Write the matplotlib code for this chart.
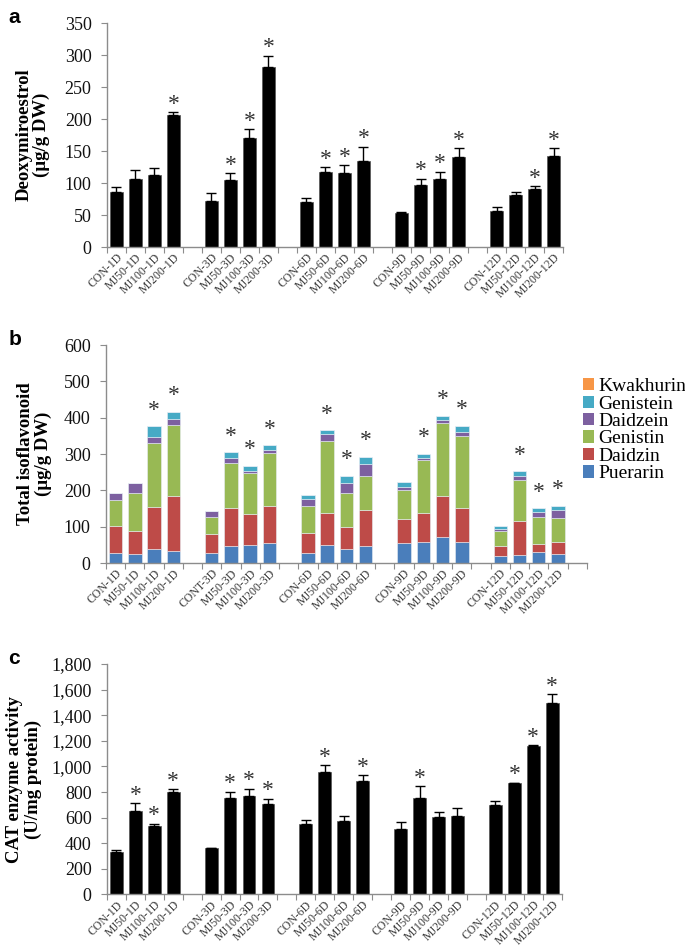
import numpy as np
import matplotlib
matplotlib.use("Agg")
import matplotlib.pyplot as plt
from matplotlib.patches import Patch

plt.rcParams["font.family"] = ["Liberation Serif", "DejaVu Serif"]

# --- labels ---
labels = ["CON-1D", "MJ50-1D", "MJ100-1D", "MJ200-1D",
          "CON-3D", "MJ50-3D", "MJ100-3D", "MJ200-3D",
          "CON-6D", "MJ50-6D", "MJ100-6D", "MJ200-6D",
          "CON-9D", "MJ50-9D", "MJ100-9D", "MJ200-9D",
          "CON-12D", "MJ50-12D", "MJ100-12D", "MJ200-12D"]
labels_b = ["CON-1D", "MJ50-1D", "MJ100-1D", "MJ200-1D",
            "CONT-3D", "MJ50-3D", "MJ100-3D", "MJ200-3D",
            "CON-6D", "MJ50-6D", "MJ100-6D", "MJ200-6D",
            "CON-9D", "MJ50-9D", "MJ100-9D", "MJ200-9D",
            "CON-12D", "MJ50-12D", "MJ100-12D", "MJ200-12D"]

# --- panel a: deoxymiroestrol ---
deoxy_mean = [86, 107, 112, 206, 72, 104, 171, 282, 70, 117, 116, 135,
              53, 97, 106, 141, 57, 82, 90, 142]
deoxy_err = [8, 13, 12, 5, 13, 12, 13, 17, 7, 8, 12, 22,
             2, 10, 12, 13, 5, 4, 5, 12]
deoxy_sig = [0, 0, 0, 1, 0, 1, 1, 1, 0, 1, 1, 1, 0, 1, 1, 1, 0, 0, 1, 1]

# --- panel b: isoflavonoids (stacked) ---
puerarin = [27, 25, 40, 34, 27, 48, 50, 56, 27, 49, 40, 48, 54, 59, 72, 59, 20, 22, 31, 26]
daidzin = [74, 62, 115, 151, 53, 104, 86, 101, 55, 88, 58, 97, 68, 78, 113, 93, 26, 93, 21, 31]
genistin = [73, 105, 176, 195, 46, 124, 112, 146, 76, 198, 95, 95, 79, 147, 200, 198, 41, 114, 75, 68]
daidzein = [20, 28, 16, 16, 18, 14, 4, 9, 17, 21, 26, 33, 8, 5, 9, 11, 8, 11, 13, 21]
genistein = [0, 0, 29, 21, 0, 15, 16, 12, 11, 9, 21, 20, 14, 11, 11, 17, 8, 13, 11, 11]
kwakhurin = [0, 0, 0, 0, 0, 0, 0, 0, 0, 0, 0, 0, 0, 0, 0, 0, 0, 0, 0, 0]
iso_sig = [0, 0, 1, 1, 0, 1, 1, 1, 0, 1, 1, 1, 0, 1, 1, 1, 0, 1, 1, 1]

# --- panel c: CAT enzyme activity ---
cat_mean = [334, 650, 531, 800, 363, 756, 767, 710, 552, 953, 572, 886,
            513, 756, 603, 616, 702, 870, 1158, 1494]
cat_err = [13, 65, 23, 24, 3, 47, 59, 39, 33, 60, 37, 46,
           49, 91, 42, 60, 26, 3, 10, 73]
cat_sig = [0, 1, 1, 1, 0, 1, 1, 1, 0, 1, 0, 1, 0, 1, 0, 0, 0, 1, 1, 1]

serif = "Liberation Serif"
sans = "Liberation Sans"
spine_col = "#8c8c8c"
tick_col = "#3a3a3a"

pos = np.array([i + i // 4 for i in range(len(labels))])


def style_axis(ax, ticklabels, nslots, ymax, ystep, fmt="{:,.0f}"):
    ax.set_xlim(-0.5, nslots - 0.5)
    ax.set_ylim(0, ymax)
    for s in ["top", "right"]:
        ax.spines[s].set_visible(False)
    for s in ["left", "bottom"]:
        ax.spines[s].set_color(spine_col)
        ax.spines[s].set_linewidth(1.0)
    ax.set_xticks(np.arange(-0.5, nslots, 1.0))
    ax.set_xticklabels([])
    ax.tick_params(axis="x", which="major", length=4, color=spine_col, direction="out")
    ax.set_xticks(pos, minor=True)
    ax.set_xticklabels(ticklabels, minor=True, rotation=45, ha="right",
                       rotation_mode="anchor", fontsize=8.5, family=serif, color=tick_col)
    ax.tick_params(axis="x", which="minor", length=0, pad=3)
    yt = np.arange(0, ymax + 1, ystep)
    ax.set_yticks(yt)
    ax.set_yticklabels([fmt.format(v) for v in yt], fontsize=13, family=serif, color="#111111")
    ax.tick_params(axis="y", length=4, color=spine_col, direction="out", pad=7)


def stars(ax, xs, tops, sig, offset):
    for x, t, s in zip(xs, tops, sig):
        if s:
            ax.annotate("*", (x, t), xytext=(0, offset), textcoords="offset points",
                        ha="center", va="bottom", fontsize=17, family=serif, color="#333333")


fig = plt.figure(figsize=(6.85, 9.49), dpi=100)

# panel a
ax1 = fig.add_axes([0.156, 0.7397, 0.666, 0.236])
ax1.bar(pos, deoxy_mean, width=0.72, color="black", edgecolor="#555555", linewidth=0.5,
        yerr=[np.zeros(len(deoxy_err)), deoxy_err], capsize=3.5,
        error_kw=dict(elinewidth=1, capthick=1, ecolor="black"))
style_axis(ax1, labels, 24, 350, 50)
stars(ax1, pos, np.array(deoxy_mean) + np.array(deoxy_err), deoxy_sig, -2)
ax1.set_ylabel("Deoxymiroestrol\n(µg/g DW)", fontsize=13.5, fontweight="bold", family=serif,
               linespacing=1.0)
ax1.yaxis.set_label_coords(-0.125, 0.5)

# panel b
ax2 = fig.add_axes([0.1547, 0.4067, 0.702, 0.2297])
colors = {"Puerarin": "#4A7EBB", "Daidzin": "#BE4B48", "Genistin": "#98B954",
          "Daidzein": "#7D60A0", "Genistein": "#46AAC5", "Kwakhurin": "#F79646"}
series = [("Puerarin", puerarin), ("Daidzin", daidzin), ("Genistin", genistin),
          ("Daidzein", daidzein), ("Genistein", genistein), ("Kwakhurin", kwakhurin)]
bottom = np.zeros(len(labels))
for name, vals in series:
    ax2.bar(pos, vals, bottom=bottom, width=0.7, color=colors[name],
            edgecolor="#e8eef5", linewidth=0.4)
    bottom = bottom + np.array(vals)
style_axis(ax2, labels_b, 25, 600, 100)
stars(ax2, pos, bottom, iso_sig, 4)
ax2.set_ylabel("Total isoflavonoid\n(µg/g DW)", fontsize=13.5, fontweight="bold", family=serif,
               linespacing=1.0)
ax2.yaxis.set_label_coords(-0.113, 0.5)
handles = [Patch(facecolor=colors[n], edgecolor="none") for n, _ in series[::-1]]
fig.legend(handles, [n for n, _ in series[::-1]], loc="upper left",
           bbox_to_anchor=(0.825, 0.62), frameon=False, handlelength=0.6,
           handleheight=0.6, handletextpad=0.2, labelspacing=0.02,
           prop={"family": serif, "size": 14})

# panel c
ax3 = fig.add_axes([0.156, 0.0575, 0.664, 0.2428])
ax3.bar(pos, cat_mean, width=0.68, color="black", edgecolor="#555555", linewidth=0.5,
        yerr=[np.zeros(len(cat_err)), cat_err], capsize=3.5,
        error_kw=dict(elinewidth=1, capthick=1, ecolor="black"))
style_axis(ax3, labels, 24, 1800, 200)
stars(ax3, pos, np.array(cat_mean) + np.array(cat_err), cat_sig, -2)
ax3.set_ylabel("CAT enzyme activity\n(U/mg protein)", fontsize=13.5, fontweight="bold",
               family=serif, linespacing=1.15)
ax3.yaxis.set_label_coords(-0.143, 0.5)

# panel letters
for ax, letter, y in [(ax1, "a", 0.992), (ax2, "b", 0.652), (ax3, "c", 0.316)]:
    fig.text(0.012, y, letter, fontsize=15, fontweight="bold", family=sans, va="top")

fig.savefig("out.png", dpi=100)
